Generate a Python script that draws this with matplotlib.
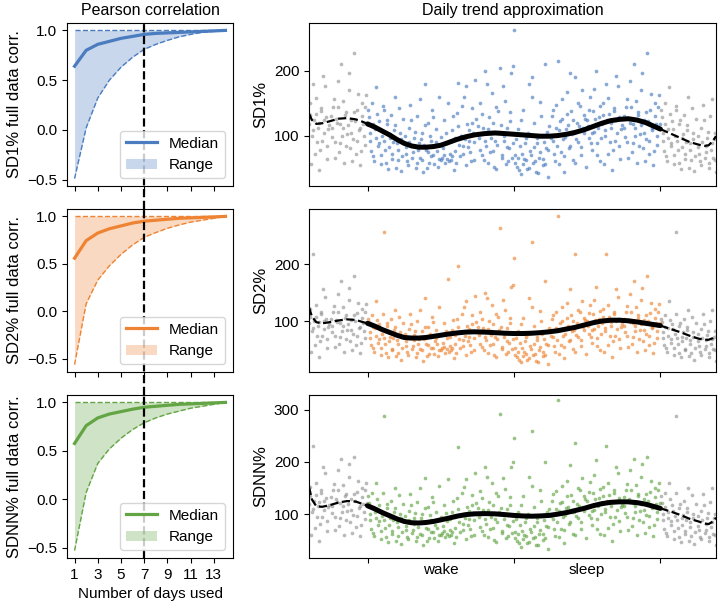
import matplotlib
matplotlib.use("Agg")
import matplotlib.pyplot as plt
from matplotlib.lines import Line2D
from matplotlib.patches import Patch
import numpy as np

plt.rcParams['font.family'] = ['Liberation Sans', 'DejaVu Sans']
plt.rcParams['font.size'] = 11

# ---- left column: correlation with full data vs number of days used
days = np.arange(1, 15)
sd1_median = [0.64, 0.80, 0.86, 0.89, 0.92, 0.94, 0.96, 0.97, 0.975, 0.98, 0.985, 0.99, 0.995, 1.0]
sd1_lower = [-0.49, 0.02, 0.32, 0.50, 0.63, 0.73, 0.81, 0.86, 0.90, 0.935, 0.96, 0.98, 0.99, 1.0]
sd2_median = [0.56, 0.745, 0.825, 0.87, 0.90, 0.93, 0.95, 0.96, 0.97, 0.98, 0.985, 0.99, 0.995, 1.0]
sd2_lower = [-0.56, 0.08, 0.33, 0.48, 0.60, 0.70, 0.78, 0.83, 0.875, 0.91, 0.94, 0.96, 0.98, 1.0]
sdnn_median = [0.576, 0.76, 0.84, 0.88, 0.905, 0.93, 0.95, 0.96, 0.97, 0.98, 0.985, 0.99, 0.995, 1.0]
sdnn_lower = [-0.53, 0.07, 0.37, 0.52, 0.63, 0.72, 0.79, 0.84, 0.88, 0.91, 0.94, 0.96, 0.98, 1.0]
upper = [1.0] * 14
chosen_days = 7

# ---- right column: measurements over the day (0-1 wake, 1-2 sleep), two batches
time_a = [0.01, 0.02, 0.03, 0.04, 0.05, 0.06, 0.07, 0.08, 0.09, 0.10, 0.11, 0.12,
          0.13, 0.14, 0.15, 0.16, 0.17, 0.18, 0.19, 0.20, 0.21, 0.22, 0.23, 0.24,
          0.26, 0.27, 0.28, 0.29, 0.31, 0.32, 0.33, 0.34, 0.35, 0.36, 0.37, 0.38,
          0.39, 0.40, 0.41, 0.42, 0.43, 0.44, 0.45, 0.46, 0.47, 0.48, 0.49, 0.50,
          0.51, 0.52, 0.53, 0.54, 0.55, 0.56, 0.57, 0.58, 0.59, 0.60, 0.61, 0.62,
          0.63, 0.64, 0.65, 0.66, 0.67, 0.68, 0.69, 0.70, 0.71, 0.72, 0.73, 0.74,
          0.76, 0.77, 0.78, 0.79, 0.80, 0.81, 0.82, 0.83, 0.84, 0.85, 0.86, 0.87,
          0.88, 0.89, 0.905, 0.91, 0.92, 0.93, 0.94, 0.95, 0.96, 0.97, 0.98, 0.99,
          1.00, 1.01, 1.02, 1.03, 1.04, 1.05, 1.06, 1.07, 1.08, 1.09, 1.10, 1.11,
          1.12, 1.13, 1.14, 1.15, 1.16, 1.17, 1.18, 1.19, 1.20, 1.21, 1.22, 1.23, 1.24,
          1.26, 1.27, 1.28, 1.29, 1.30, 1.31, 1.32, 1.33, 1.34, 1.35, 1.36, 1.37,
          1.38, 1.39, 1.40, 1.41, 1.42, 1.43, 1.44, 1.45, 1.46, 1.47, 1.48, 1.49,
          1.50, 1.51, 1.52, 1.53, 1.54, 1.55, 1.56, 1.57, 1.58, 1.59, 1.60, 1.61,
          1.62, 1.63, 1.64, 1.65, 1.66, 1.67, 1.68, 1.69, 1.70, 1.71, 1.72, 1.73,
          1.75, 1.76, 1.77, 1.78, 1.79, 1.80, 1.81, 1.82, 1.83, 1.84, 1.85, 1.86,
          1.87, 1.88, 1.89, 1.90, 1.91, 1.92, 1.93, 1.94, 1.95, 1.96, 1.97, 1.98, 1.99]
sd1_a = [128, 92, 150, 68, 110, 175, 84, 122, 56, 100, 140, 78,
         118, 48, 96, 132, 72, 108, 160, 88, 62, 104, 45, 126,
         82, 60, 112, 148, 74, 96, 50, 130, 88, 66, 104, 44,
         180, 78, 120, 58, 92, 140, 70, 84, 110, 52, 64, 98,
         66, 124, 58, 88, 150, 72, 62, 108, 46, 96, 135, 181,
         68, 100, 84, 160, 54, 118, 92, 74, 142, 104, 62, 126,
         96, 150, 70, 112, 200, 84, 58, 128, 104, 166, 76, 92,
         48, 138, 205, 116, 66, 100, 154, 82, 60, 122, 196, 88,
         263, 70, 52, 110, 84, 40, 140, 64, 96, 48, 180, 76,
         190, 58, 120, 44, 88, 66, 152, 100, 54, 210, 80, 36, 114,
         130, 92, 60, 148, 215, 108, 74, 126, 44, 98, 168, 116,
         84, 138, 62, 104, 190, 120, 90, 146, 70, 112, 132, 52,
         124, 96, 160, 78, 138, 106, 200, 88, 128, 60, 118, 150,
         100, 180, 72, 134, 112, 46, 142, 92, 124, 176, 84, 110,
         130, 98, 156, 66, 120, 144, 88, 210, 112, 58, 136, 102,
         170, 80, 124, 95, 228, 72, 140, 108, 54, 150, 118, 86, 162]
sd2_a = [98, 70, 110, 52, 88, 135, 62, 94, 40, 78, 258, 60,
         92, 36, 72, 104, 50, 84, 120, 66, 44, 80, 32, 96,
         64, 46, 86, 112, 56, 76, 36, 100, 68, 50, 82, 30,
         140, 60, 90, 42, 72, 108, 52, 64, 84, 38, 48, 76,
         52, 96, 44, 70, 175, 56, 48, 84, 34, 76, 104, 197,
         52, 80, 66, 124, 40, 92, 72, 58, 110, 82, 48, 98,
         76, 116, 54, 88, 150, 66, 44, 100, 82, 128, 60, 72,
         36, 108, 265, 90, 50, 78, 120, 64, 46, 96, 160, 68,
         212, 52, 36, 82, 62, 28, 106, 46, 72, 32, 140, 56,
         240, 40, 92, 30, 66, 48, 118, 78, 38, 170, 60, 24, 88,
         104, 72, 46, 116, 285, 84, 58, 100, 34, 78, 132, 92,
         66, 110, 50, 84, 218, 96, 72, 116, 56, 90, 106, 42,
         100, 78, 128, 62, 112, 86, 160, 70, 104, 48, 96, 122,
         82, 218, 58, 108, 92, 36, 116, 74, 100, 142, 68, 90,
         104, 80, 126, 54, 98, 116, 72, 170, 92, 46, 110, 84,
         138, 64, 102, 78, 180, 58, 114, 88, 44, 122, 96, 70, 130]
sdnn_a = [122, 88, 140, 64, 104, 160, 80, 118, 52, 96, 287, 74,
          112, 46, 92, 126, 68, 104, 150, 84, 58, 100, 42, 120,
          78, 56, 106, 138, 70, 92, 48, 124, 84, 62, 100, 40,
          170, 74, 114, 54, 88, 132, 66, 80, 104, 48, 60, 94,
          64, 118, 56, 86, 168, 70, 60, 104, 44, 94, 130, 228,
          66, 98, 82, 152, 52, 114, 90, 72, 136, 102, 60, 122,
          94, 144, 68, 108, 190, 82, 56, 124, 100, 160, 74, 90,
          46, 134, 292, 112, 64, 98, 148, 80, 58, 118, 190, 86,
          245, 66, 48, 104, 80, 38, 134, 60, 92, 44, 172, 72,
          260, 54, 114, 40, 84, 62, 146, 96, 50, 200, 78, 34, 110,
          126, 90, 58, 144, 318, 106, 72, 124, 44, 98, 164, 114,
          84, 136, 62, 104, 236, 120, 92, 146, 72, 114, 134, 54,
          126, 98, 162, 80, 140, 108, 204, 90, 130, 62, 120, 152,
          104, 230, 74, 136, 116, 48, 146, 94, 126, 178, 86, 114,
          132, 102, 158, 70, 124, 146, 92, 205, 116, 60, 138, 106,
          172, 84, 128, 98, 210, 76, 142, 112, 58, 150, 120, 90, 160]

time_b = [0.005, 0.015, 0.025, 0.035, 0.045, 0.055, 0.065, 0.075, 0.085, 0.095, 0.105, 0.115,
          0.125, 0.135, 0.145, 0.155, 0.165, 0.175, 0.185, 0.195, 0.205, 0.215, 0.225, 0.235,
          0.255, 0.265, 0.275, 0.285, 0.295, 0.305, 0.315, 0.325, 0.335, 0.345, 0.355, 0.365,
          0.375, 0.385, 0.395, 0.405, 0.415, 0.425, 0.435, 0.445, 0.455, 0.465, 0.475, 0.485,
          0.505, 0.515, 0.525, 0.535, 0.545, 0.555, 0.565, 0.575, 0.585, 0.595, 0.605, 0.615,
          0.625, 0.635, 0.645, 0.655, 0.665, 0.675, 0.685, 0.695, 0.705, 0.715, 0.725, 0.735,
          0.755, 0.765, 0.775, 0.785, 0.795, 0.805, 0.815, 0.825, 0.835, 0.845, 0.855, 0.865,
          0.875, 0.885, 0.895, 0.915, 0.925, 0.935, 0.945, 0.955, 0.965, 0.975, 0.985, 0.995,
          1.005, 1.015, 1.025, 1.035, 1.045, 1.055, 1.065, 1.075, 1.085, 1.095, 1.105, 1.115,
          1.125, 1.135, 1.145, 1.155, 1.165, 1.175, 1.185, 1.195, 1.205, 1.215, 1.225, 1.235,
          1.255, 1.265, 1.275, 1.285, 1.295, 1.305, 1.315, 1.325, 1.335, 1.345, 1.355, 1.365,
          1.375, 1.385, 1.395, 1.405, 1.415, 1.425, 1.435, 1.445, 1.455, 1.465, 1.475, 1.485,
          1.505, 1.515, 1.525, 1.535, 1.545, 1.555, 1.565, 1.575, 1.585, 1.595, 1.605, 1.615,
          1.625, 1.635, 1.645, 1.655, 1.665, 1.675, 1.685, 1.695, 1.705, 1.715, 1.725, 1.735,
          1.755, 1.765, 1.775, 1.785, 1.795, 1.805, 1.815, 1.825, 1.835, 1.845, 1.855, 1.865,
          1.875, 1.885, 1.895, 1.905, 1.915, 1.925, 1.935, 1.945, 1.955, 1.965, 1.975, 1.985, 1.995]
sd1_b = [140, 104, 76, 118, 60, 96, 134, 88, 110, 70, 146, 92,
         58, 124, 82, 102, 64, 90, 116, 50, 78, 142, 94, 68,
         100, 72, 54, 90, 124, 66, 84, 106, 58, 78, 156, 94,
         62, 86, 116, 50, 74, 100, 68, 128, 56, 90, 76, 160,
         62, 80, 70, 104, 64, 60, 92, 68, 130, 76, 58, 114,
         86, 100, 146, 72, 94, 176, 82, 108, 60, 120, 90, 186,
         114, 78, 102, 134, 62, 92, 180, 110, 74, 96, 120, 52,
         144, 86, 106, 70, 176, 92, 56, 112, 80, 136, 66, 208,
         58, 94, 66, 46, 124, 72, 56, 88, 62, 104, 50, 70,
         160, 82, 60, 96, 42, 74, 130, 64, 90, 56, 106, 78,
         96, 140, 72, 112, 84, 56, 122, 156, 94, 68, 110, 134,
         80, 196, 102, 124, 58, 94, 150, 114, 82, 170, 104, 126,
         114, 140, 88, 104, 172, 126, 70, 112, 146, 96, 132, 56,
         108, 124, 158, 90, 120, 78, 138, 192, 104, 128, 64, 116,
         112, 144, 90, 126, 184, 74, 118, 100, 154, 132, 84, 116,
         196, 104, 60, 136, 122, 92, 164, 112, 76, 130, 100, 144, 118]
sd2_b = [104, 80, 58, 90, 46, 74, 102, 68, 86, 52, 112, 70,
         44, 96, 64, 80, 48, 70, 90, 38, 60, 108, 72, 52,
         78, 56, 40, 70, 94, 50, 66, 82, 44, 60, 120, 72,
         48, 68, 90, 38, 58, 78, 52, 98, 42, 70, 60, 124,
         48, 62, 54, 82, 50, 46, 72, 52, 102, 60, 44, 90,
         68, 80, 112, 56, 74, 136, 64, 86, 46, 94, 70, 144,
         90, 60, 80, 104, 48, 72, 140, 86, 58, 76, 94, 40,
         112, 68, 84, 54, 138, 72, 42, 88, 62, 106, 50, 164,
         40, 70, 46, 32, 94, 52, 38, 64, 42, 78, 34, 50,
         124, 60, 42, 72, 28, 54, 100, 46, 68, 40, 80, 58,
         74, 110, 56, 88, 66, 42, 96, 124, 74, 54, 88, 106,
         64, 156, 82, 100, 46, 76, 120, 92, 66, 136, 84, 102,
         92, 114, 72, 84, 138, 102, 56, 92, 118, 78, 108, 46,
         88, 100, 128, 74, 98, 64, 112, 156, 86, 104, 52, 94,
         92, 116, 74, 102, 148, 60, 96, 82, 124, 106, 68, 94,
         158, 84, 48, 110, 100, 74, 132, 90, 62, 106, 82, 116, 96]
sdnn_b = [134, 100, 72, 114, 58, 92, 128, 86, 106, 68, 140, 88,
          56, 120, 80, 98, 62, 88, 112, 48, 76, 136, 92, 66,
          96, 70, 52, 88, 118, 64, 82, 102, 56, 76, 150, 92,
          60, 84, 112, 48, 72, 98, 66, 124, 54, 88, 74, 154,
          60, 78, 68, 102, 62, 58, 90, 66, 126, 74, 56, 110,
          84, 98, 140, 70, 92, 168, 80, 106, 58, 118, 88, 178,
          112, 76, 100, 130, 60, 90, 172, 108, 72, 94, 118, 50,
          140, 84, 104, 68, 170, 90, 54, 110, 78, 132, 64, 200,
          54, 90, 62, 44, 118, 68, 52, 84, 58, 100, 46, 66,
          154, 78, 56, 92, 40, 70, 126, 62, 88, 54, 104, 76,
          96, 138, 72, 110, 84, 56, 122, 154, 94, 70, 112, 134,
          82, 194, 104, 126, 60, 96, 150, 116, 84, 170, 106, 128,
          116, 142, 92, 106, 174, 128, 72, 116, 148, 100, 134, 60,
          110, 126, 160, 94, 124, 82, 140, 190, 108, 130, 68, 118,
          116, 146, 94, 128, 184, 78, 122, 104, 156, 134, 88, 120,
          196, 108, 64, 138, 126, 96, 164, 116, 80, 132, 104, 146, 122]

# approximated daily trend (black curve)
trend_t = [-0.40, -0.38, -0.35, -0.31, -0.26, -0.20, -0.14, -0.08, -0.03, 0.0,
           0.05, 0.10, 0.15, 0.20, 0.25, 0.30, 0.35, 0.40, 0.45, 0.50, 0.55, 0.61,
           0.67, 0.73, 0.80, 0.87, 0.94, 1.00, 1.06, 1.12, 1.18, 1.24, 1.30, 1.36,
           1.42, 1.48, 1.54, 1.60, 1.66, 1.72, 1.78, 1.84, 1.90, 1.95, 2.0,
           2.07, 2.14, 2.20, 2.26, 2.30, 2.33, 2.36, 2.38]
sd1_trend = [134, 124, 118, 119, 122, 126, 127, 125, 121, 118,
             113, 107, 101, 94, 88, 84, 82, 82, 83, 85, 89, 94,
             98, 101, 103, 104, 103, 102, 101, 100, 99, 99, 100, 102,
             105, 109, 114, 119, 123, 125, 126, 124, 120, 115, 110,
             103, 96, 90, 86, 84, 85, 92, 99]
sd2_trend = [124, 108, 98, 96, 98, 101, 103, 102, 98, 96,
             91, 85, 80, 75, 71, 70, 70, 71, 73, 75, 77, 79,
             80.5, 81, 80.5, 79.5, 78.5, 78, 78, 78.5, 79.5, 81, 83, 86,
             89, 93, 97, 100, 101.5, 101.5, 100.5, 98.5, 96, 94, 92,
             86, 80, 74, 69, 67, 67, 70, 74]
sdnn_trend = [152, 128, 115, 114, 117, 122, 125, 124, 119, 116,
              110, 103, 97, 91, 86, 83.5, 83, 84, 86, 89, 92, 96,
              99, 100.5, 101, 100.5, 99, 97.5, 96.5, 96, 96.5, 97.5, 100, 103,
              107, 111, 116, 120, 122.5, 123.5, 123.5, 122, 119, 115, 111,
              105, 98, 91, 86, 82, 81, 86, 93]

names = ['SD1%', 'SD2%', 'SDNN%']
colors = ['#4a7cbf', '#ee8433', '#63a544']
left_data = [(sd1_median, sd1_lower), (sd2_median, sd2_lower), (sdnn_median, sdnn_lower)]
right_data = [(sd1_a, sd1_b, sd1_trend), (sd2_a, sd2_b, sd2_trend), (sdnn_a, sdnn_b, sdnn_trend)]
right_ylims = [(22, 274), (10, 298), (16, 328)]
right_yticks = [[100, 200], [100, 200], [100, 200, 300]]

fig = plt.figure(figsize=(7.22, 6.05), dpi=100)
W, H = 722.0, 605.0
row_tops = [23, 209, 395]
row_h = 163

t = np.array(time_a + time_b)
for i in range(3):
    bottom = 1 - (row_tops[i] + row_h) / H
    axl = fig.add_axes((67 / W, bottom, 166 / W, row_h / H))
    axr = fig.add_axes((309 / W, bottom, 407 / W, row_h / H))
    c = colors[i]

    # left: correlation
    med, low = left_data[i]
    axl.fill_between(days, low, upper, color=c, alpha=0.3, lw=0)
    axl.plot(days, low, color=c, ls='--', lw=1)
    axl.plot(days, upper, color=c, ls='--', lw=1)
    axl.plot(days, med, color=c, lw=2.3)
    ext = 0 if i == 2 else -(209 - 186) / row_h
    axl.axvline(chosen_days, ymin=ext, ymax=1, color='black', ls='--', lw=1.6, clip_on=False, zorder=3)
    axl.set_xticks(range(1, 15, 2))
    axl.set_yticks([-0.5, 0.0, 0.5, 1.0])
    axl.set_ylabel(names[i] + ' full data corr.', fontsize=12)
    handles = [Line2D([0], [0], color=c, lw=2.3), Patch(facecolor=c, alpha=0.3, lw=0)]
    axl.legend(handles, ['Median', 'Range'], loc='lower right', fontsize=11)
    if i < 2:
        axl.set_xticklabels([])
    else:
        axl.set_xlabel('Number of days used')

    # right: daily trend
    ya, yb, trend = right_data[i]
    y = np.array(ya + yb)
    left_copy = t >= 1.6
    right_copy = t <= 0.38
    axr.scatter(t[left_copy] - 2, y[left_copy], s=7, color='gray', alpha=0.55, lw=0)
    axr.scatter(t[right_copy] + 2, y[right_copy], s=7, color='gray', alpha=0.55, lw=0)
    axr.scatter(t, y, s=7, color=c, alpha=0.65, lw=0)
    tt = np.array(trend_t)
    tr = np.array(trend)
    inside = (tt >= 0) & (tt <= 2)
    axr.plot(tt[inside], tr[inside], color='black', lw=3.6, solid_capstyle='round',
             solid_joinstyle='round')
    axr.plot(tt[tt <= 0], tr[tt <= 0], color='black', lw=1.6, ls='--')
    axr.plot(tt[tt >= 2], tr[tt >= 2], color='black', lw=1.6, ls='--')
    axr.set_xlim(-0.40, 2.38)
    axr.set_ylim(*right_ylims[i])
    axr.set_yticks(right_yticks[i])
    axr.set_ylabel(names[i], fontsize=12)
    axr.set_xticks([0, 1, 2])
    axr.set_xticklabels([])
    axr.set_xticks([0.5, 1.5], minor=True)
    axr.tick_params(axis='x', which='minor', length=0)
    if i == 2:
        axr.set_xticklabels(['wake', 'sleep'], minor=True)
    else:
        axr.set_xticklabels([], minor=True)

    if i == 0:
        axl.set_title('Pearson correlation', fontsize=11.5)
        axr.set_title('Daily trend approximation', fontsize=11.5)

fig.savefig('out.png', dpi=100)
